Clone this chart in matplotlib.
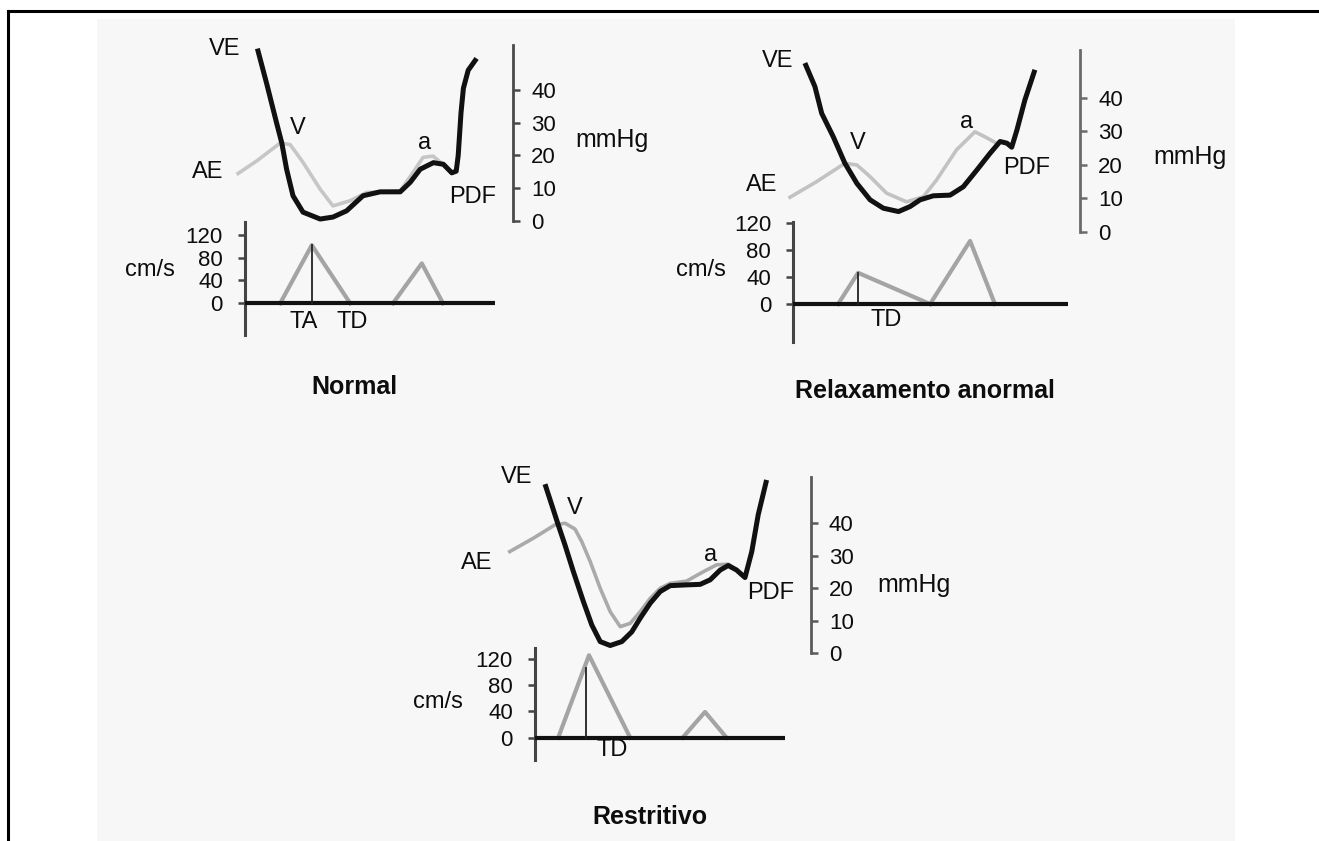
"""
Padroes de enchimento diastolico: pressoes VE/AE e fluxo mitral (Doppler)
"""

import matplotlib
matplotlib.use('Agg')
import matplotlib.pyplot as plt
from matplotlib.patches import Rectangle

plt.rcParams['font.family'] = ['Liberation Sans', 'DejaVu Sans']

W, H = 1319, 841
TXT = '#0d0d0d'

# ---------------- Normal ----------------
normal_ve_t = [31, 54, 79, 92, 104, 120, 145, 188, 220, 254, 295, 338, 388, 413, 438, 471, 496, 517, 528, 533, 540, 546, 558, 579]
normal_ve_p = [52.6, 42.0, 29.9, 23.8, 15.8, 7.7, 2.7, 0.6, 1.2, 3.1, 7.7, 8.9, 8.9, 11.8, 15.8, 17.8, 17.3, 14.7, 15.2, 20.0, 33.0, 40.5, 46.0, 49.6]
normal_ae_t = [-21, 29, 88, 113, 145, 188, 220, 263, 304, 354, 388, 420, 445, 470, 495, 520]
normal_ae_p = [14.2, 18.3, 23.8, 23.3, 17.9, 9.7, 4.6, 6.2, 8.7, 8.9, 9.2, 14.8, 19.4, 19.8, 17.3, 14.2]
normal_e_t = [88, 167, 263]
normal_e_v = [0, 102, 0]
normal_a_t = [370, 442, 495]
normal_a_v = [0, 70, 0]

# ---------------- Relaxamento anormal ----------------
relax_ve_t = [29, 54, 71, 100, 129, 159, 192, 225, 263, 292, 317, 350, 392, 425, 459, 492, 517, 534, 546, 559, 579, 604]
relax_ve_p = [50.4, 43.4, 35.4, 28.4, 20.5, 14.5, 9.6, 7.1, 6.1, 7.6, 9.6, 10.8, 11.0, 13.5, 18.5, 23.5, 27.0, 26.5, 25.3, 30.4, 39.4, 48.4]
relax_ae_t = [-12, 58, 129, 159, 192, 233, 283, 325, 358, 408, 454, 479, 508]
relax_ae_p = [10.1, 15.0, 20.5, 20.0, 16.5, 11.6, 9.0, 10.5, 15.5, 24.5, 29.9, 28.4, 26.5]
relax_e_t = [112, 162, 342]
relax_e_v = [0, 46, 0]
relax_a_t = [342, 442, 504]
relax_a_v = [0, 93, 0]

# ---------------- Restritivo ----------------
restr_ve_t = [25, 42, 58, 75, 96, 121, 142, 163, 188, 217, 242, 263, 288, 313, 338, 371, 413, 438, 463, 483, 504, 525, 542, 558, 579]
restr_ve_p = [52.0, 45.6, 39.5, 33.3, 25.1, 15.9, 8.7, 3.6, 2.4, 3.6, 6.6, 10.8, 15.4, 19.0, 20.8, 21.0, 21.2, 22.6, 25.6, 27.0, 25.6, 23.3, 31.3, 42.6, 53.3]
restr_ae_t = [-67, -4, 50, 75, 100, 117, 138, 163, 188, 213, 238, 263, 288, 313, 338, 379, 421, 454, 483, 504, 525]
restr_ae_p = [31.0, 35.4, 39.5, 40.0, 38.2, 34.3, 28.2, 20.0, 12.8, 8.2, 9.2, 12.8, 16.9, 20.0, 21.5, 22.2, 25.1, 27.2, 27.4, 25.6, 23.3]
restr_e_t = [58, 135, 238]
restr_e_v = [0, 125, 0]
restr_a_t = [369, 425, 479]
restr_a_v = [0, 39, 0]

mmhg_ticks = [0, 10, 20, 30, 40]
cms_ticks = [0, 40, 80, 120]


def px_axes(fig, x0, y0, x1, y1):
    """Cria eixos a partir de um retangulo em pixels (origem no topo)"""
    ax = fig.add_axes([x0 / W, 1 - y1 / H, (x1 - x0) / W, (y1 - y0) / H])
    ax.patch.set_visible(False)
    return ax


def painel_pressao(fig, rect, t_end, p_top, ve_t, ve_p, ae_t, ae_p, ae_cor, eixo_cor, rotulos):
    ax = px_axes(fig, *rect)
    ax.set_xlim(0, t_end)
    ax.set_ylim(0, p_top)
    for s in ['left', 'top', 'bottom']:
        ax.spines[s].set_visible(False)
    ax.spines['right'].set_bounds(0, p_top)
    ax.spines['right'].set_color(eixo_cor)
    ax.spines['right'].set_linewidth(2.0)
    ax.yaxis.tick_right()
    ax.set_yticks(mmhg_ticks)
    ax.set_xticks([])
    ax.tick_params(axis='y', length=5, width=1.8, color=eixo_cor, pad=8,
                   labelsize=16, labelcolor=TXT)
    ax.plot(ae_t, ae_p, color=ae_cor, lw=2.6, clip_on=False, zorder=2,
            solid_joinstyle='round', solid_capstyle='butt')
    ax.plot(ve_t, ve_p, color='#111111', lw=3.6, clip_on=False, zorder=3,
            solid_joinstyle='round', solid_capstyle='butt')
    for txt, t, p, ha in rotulos:
        tam = 18 if txt == 'mmHg' else 17
        ax.text(t, p, txt, fontsize=tam, color=TXT, ha=ha, va='center', clip_on=False)
    return ax


def painel_doppler(fig, rect, t_end, v_top, v_bot, e_t, e_v, a_t, a_v, marca, rotulos):
    ax = px_axes(fig, *rect)
    ax.set_xlim(0, t_end)
    ax.set_ylim(v_bot, v_top)
    for s in ['right', 'top', 'bottom']:
        ax.spines[s].set_visible(False)
    ax.spines['left'].set_color('#444444')
    ax.spines['left'].set_linewidth(2.2)
    ax.set_yticks(cms_ticks)
    ax.set_xticks([])
    ax.tick_params(axis='y', length=5, width=1.8, color='#444444', pad=11,
                   labelsize=16, labelcolor=TXT)
    ax.axhline(0, color='#111111', lw=3.0, zorder=3)
    ax.plot(e_t, e_v, color='#a4a4a4', lw=3.0, zorder=2)
    ax.plot(a_t, a_v, color='#a4a4a4', lw=3.0, zorder=2)
    ax.plot([marca[0], marca[0]], [0, marca[1]], color='#222222', lw=1.3, zorder=4)
    for txt, t, v, ha in rotulos:
        ax.text(t, v, txt, fontsize=17, color=TXT, ha=ha, va='center', clip_on=False)
    return ax


def main():
    fig = plt.figure(figsize=(W / 100, H / 100), dpi=100)

    # fundo: moldura e area digitalizada
    bg = fig.add_axes([0, 0, 1, 1])
    bg.set_xlim(0, W)
    bg.set_ylim(H, 0)
    bg.axis('off')
    bg.add_patch(Rectangle((97, 19), 1138, 830, color='#f7f7f7', lw=0))
    bg.plot([8, 8], [11, H + 5], color='black', lw=2.2)
    bg.plot([8, W + 5], [11, 11], color='black', lw=2.2)

    # Normal
    painel_pressao(fig, (245, 45, 513, 221), 670, 53.7,
                   normal_ve_t, normal_ve_p, normal_ae_t, normal_ae_p,
                   '#c6c6c6', '#4a4a4a',
                   [('VE', -50, 52.4, 'center'), ('AE', -92, 14.9, 'center'),
                    ('V', 132, 28.4, 'center'), ('a', 450, 23.8, 'center'),
                    ('PDF', 570, 7.3, 'center'), ('mmHg', 825, 24.7, 'left')])
    painel_doppler(fig, (245, 222, 495, 335), 625, 142.6, -55.6,
                   normal_e_t, normal_e_v, normal_a_t, normal_a_v, (167, 102),
                   [('TA', 147, -33, 'center'), ('TD', 267, -33, 'center'),
                    ('cm/s', -237, 58, 'center')])
    bg.text(354, 387, 'Normal', fontsize=18, fontweight='bold', color=TXT,
            ha='center', va='center')

    # Relaxamento anormal
    painel_pressao(fig, (793.3, 50, 1080, 232), 716.75, 54.3,
                   relax_ve_t, relax_ve_p, relax_ae_t, relax_ae_p,
                   '#c2c2c2', '#6a6a6a',
                   [('VE', -38, 51, 'center'), ('AE', -78, 14, 'center'),
                    ('V', 162, 26.6, 'center'), ('a', 434, 32.8, 'center'),
                    ('PDF', 584, 19.1, 'center'), ('mmHg', 992, 22.4, 'center')])
    painel_doppler(fig, (793.3, 221.7, 1068.3, 341.7), 687.5, 121.4, -55.6,
                   relax_e_t, relax_e_v, relax_a_t, relax_a_v, (162, 46),
                   [('TD', 233, -23.6, 'center'), ('cm/s', -231, 50, 'center')])
    bg.text(925, 391, 'Relaxamento anormal', fontsize=18, fontweight='bold',
            color=TXT, ha='center', va='center')

    # Restritivo
    painel_pressao(fig, (535, 476.7, 810.7, 653.3), 689.25, 54.3,
                   restr_ve_t, restr_ve_p, restr_ae_t, restr_ae_p,
                   '#aaaaaa', '#5a5a5a',
                   [('VE', -46, 54.3, 'center'), ('AE', -146, 27.7, 'center'),
                    ('V', 100, 44.6, 'center'), ('a', 438, 30.2, 'center'),
                    ('PDF', 588, 18.5, 'center'), ('mmHg', 948, 21, 'center')])
    painel_doppler(fig, (535, 648.3, 785, 760), 625, 135.5, -33.8,
                   restr_e_t, restr_e_v, restr_a_t, restr_a_v, (127, 105),
                   [('TD', 192, -18.6, 'center'), ('cm/s', -242, 54.5, 'center')])
    bg.text(650, 817, 'Restritivo', fontsize=18, fontweight='bold', color=TXT,
            ha='center', va='center')

    fig.savefig('out.png', dpi=100)
    plt.close(fig)


if __name__ == "__main__":
    main()
